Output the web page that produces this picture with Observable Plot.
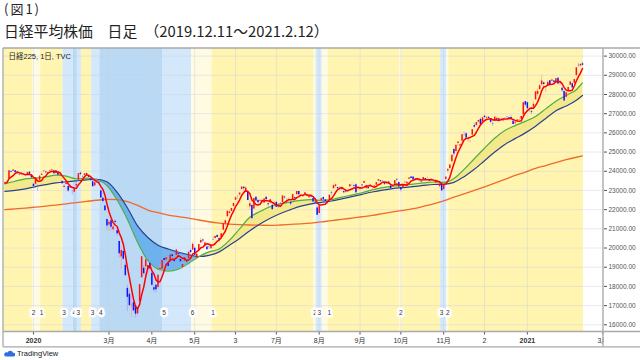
<!DOCTYPE html>
<html><head><meta charset="utf-8">
<script src="https://cdn.jsdelivr.net/npm/d3@7"></script>
<script src="https://cdn.jsdelivr.net/npm/@observablehq/plot@0.6"></script>
<style>
body{margin:0;background:#fff;width:640px;height:360px;overflow:hidden;position:relative;font-family:"Noto Sans CJK JP","Noto Sans",sans-serif;}
#chart{position:absolute;left:0;top:0;}
#t1{position:absolute;left:4px;top:2px;font-size:13px;line-height:13px;color:#222;letter-spacing:2px;}
#t2{position:absolute;left:4px;top:23px;font-size:14.8px;line-height:15px;color:#222;}
#tv{position:absolute;left:4px;top:349px;font-family:"Liberation Sans",Arial,sans-serif;font-size:7.5px;line-height:9px;color:#131722;display:flex;align-items:center;gap:2px;}
</style></head><body>
<div id="chart"></div>
<div id="t1">(図1)</div>
<div id="t2">日経平均株価　日足　（2019.12.11～2021.2.12）</div>
<div id="tv"><svg width="11" height="7" viewBox="0 0 11 7"><path d="M1.5 6.5h8a1.9 1.9 0 0 0 -0.4-3.8a3 3 0 0 0 -5.6-0.2a1.9 1.9 0 0 0 -2 4z" fill="#2e6fe0"/></svg>TradingView</div>
<script>
// ---- daily candles (trading-day index 0 = 2019-12-11 ... 283 = 2021-02-12) ----
const opens = [
 23350,23430,23620,23990,24000,24030,23900,23850,23830,23840,23800,23790,23950,23800,
 23320,23320,23220,23530,23790,24000,23960,23900,24010,24050,24020,23880,23940,23810,23470,23150,23310,23200,23130,
 22980,22910,23230,23540,23900,23700,23770,23880,23750,23600,23450,23240,23500,23430,22970,22600,22190,21480,
 21200,21420,20950,21400,20900,20340,19530,19820,19100,17900,17590,16990,17150,16990,16570,17200,18450,18950,19020,18880,19210,
 18690,17930,18060,17950,18880,18900,19450,19380,19200,19290,19650,19350,19620,19720,19400,18980,19320,19290,19450,19870,19890,
 19990,19470,19900,20260,20420,20100,20050,20050,19960,20450,20500,20650,20500,20550,20930,21250,21630,21800,
 21910,22160,22490,22700,22770,23050,23170,22990,22910,22150,22210,22030,22650,22480,22440,22470,22340,22640,22310,22340,22230,22250,
 22380,22230,22330,22370,22660,22470,22520,22380,22500,22630,22770,22940,22710,22690,22800,22790,22620,22740,22580,22380,22080,
 21800,22460,22630,22510,22360,22530,22870,23090,23210,23150,23100,23050,22940,23000,22960,23190,23280,23250,23300,23100,
 23070,23280,23370,23100,23160,23200,23020,23200,23280,23490,23510,23460,23370,23340,23440,23230,23190,23320,23580,23420,
 23160,23150,23400,23330,23590,23700,23700,23620,23560,23550,23440,23550,23620,23640,23520,23550,23520,23390,23460,23200,23330,
 23050,23580,24010,24140,24500,25130,25030,25450,25310,25560,26020,25960,25610,25520,25880,26380,26380,26560,26700,
 26550,26870,26770,26810,26740,26490,26610,26650,26730,26730,26620,26760,26820,26800,26800,26600,26470,26620,26650,26710,26940,27630,
 27570,27150,27100,27340,27720,28000,28260,28500,28600,28240,28420,28710,28690,28700,28610,28850,28640,28320,28160,
 27860,28180,28480,28560,28580,28980,29520,29480,29600
];
const highs = [
 23430,23460,24050,24050,24090,24050,23970,23890,23870,23860,23820,23940,23970,23810,
 23370,23580,23300,23770,23900,24030,24000,23950,24050,24110,24050,24040,23980,23880,23500,23320,23400,23220,23300,
 23000,23140,23400,23890,23940,23760,23870,23900,23780,23630,23500,23410,23580,23520,23000,22630,22200,21500,
 21400,21500,21200,21420,20990,20350,20080,19930,19250,18070,17780,17600,17430,17000,16890,18100,19560,19100,19390,19090,19340,
 18780,18040,18090,18600,19170,19410,19520,19550,19230,19650,19700,19450,19920,19780,19500,19140,19490,19400,19790,19950,20280,
 20000,19700,20180,20530,20470,20300,20120,20150,20200,20580,20620,20700,20540,20760,21290,21460,21920,21950,
 22070,22330,22680,22730,22880,23180,23190,23190,22970,22460,22280,22590,22680,22560,22540,22520,22580,22650,22330,22540,22240,22440,
 22440,22300,22360,22720,22700,22580,22600,22420,22800,22660,22950,22950,22800,22760,22890,22830,22760,22770,22600,22480,22150,
 22240,22600,22660,22520,22450,22770,22960,23300,23340,23170,23180,23140,22970,23040,23020,23310,23330,23300,23350,23190,
 23160,23300,23480,23230,23180,23300,23080,23270,23410,23580,23520,23520,23390,23390,23460,23230,23240,23520,23580,23440,
 23170,23330,23460,23440,23670,23720,23700,23640,23640,23560,23470,23690,23640,23700,23560,23590,23550,23490,23530,23360,23350,
 23300,23700,24110,24330,24840,25200,25350,25520,25410,25910,26060,26000,25700,25610,26180,26500,26540,26650,26760,
 26800,26890,26820,26840,26750,26540,26830,26780,26760,26760,26700,26810,26840,26810,26910,26620,26580,26690,26680,26860,27600,27640,
 27600,27280,27200,27620,28140,28290,28520,28980,28650,28350,28710,28720,28800,28720,28830,28880,28700,28380,28230,
 28130,28400,28690,28600,28800,29400,29620,29620,29690
];
const lows = [
 23330,23380,23600,23900,23970,23900,23830,23770,23790,23790,23760,23780,23800,23620,
 23150,23280,22950,23510,23780,23930,23870,23860,23970,24030,23840,23860,23750,23780,23320,23110,23280,22890,23100,
 22780,22890,23170,23530,23760,23640,23760,23750,23660,23480,23190,23200,23380,23330,22600,22360,21920,20920,
 20850,20900,20860,21150,20610,19480,18890,19360,18550,16690,16920,16380,16700,16360,16400,17130,18440,18570,18830,18580,18800,
 18000,17710,17650,17900,18760,18760,19250,19320,18990,19270,19450,19150,19600,19550,19230,18900,19320,19130,19440,19700,19880,
 19590,19450,19890,20240,20250,20050,19900,19930,19930,20390,20460,20520,20300,20520,20930,21120,21610,21780,
 21900,22150,22480,22530,22700,23000,22970,22950,22470,21980,21530,21990,22380,22290,22400,22290,22300,22450,22100,22300,21990,22200,
 22100,22060,22250,22360,22540,22400,22450,22210,22480,22400,22750,22680,22650,22620,22760,22680,22560,22600,22370,22250,21710,
 21790,22420,22450,22300,22260,22510,22730,23080,23130,23030,22990,23000,22820,22850,22900,23180,23200,23150,22790,23000,
 23020,23180,23350,23030,23040,23180,22980,23170,23250,23460,23400,23440,23260,23310,23320,23070,23150,23310,23440,23180,
 22920,23140,23380,23300,23570,23590,23550,23540,23520,23460,23360,23540,23530,23610,23440,23480,23440,23380,23400,23100,22950,
 22950,23510,23880,24090,24480,24760,24950,25300,25180,25550,25800,25700,25520,25470,25870,26230,26320,26500,26340,
 26520,26700,26690,26700,26510,26340,26600,26600,26620,26650,26570,26720,26750,26720,26690,26420,26400,26600,26620,26700,26940,27340,
 27060,27070,26960,27340,27720,27890,28220,28480,28390,28100,28400,28450,28650,28600,28580,28510,28450,28100,27630,
 27790,28170,28460,28300,28560,28970,29400,29440,29480
];
const closes = [
 23391,23424,24023,23952,24066,23934,23864,23816,23821,23830,23782,23924,23837,23656,
 23204,23575,23204,23740,23850,24025,23917,23933,24041,24083,23865,24031,23795,23827,23344,23216,23379,22977,23205,
 22972,23084,23320,23873,23828,23686,23861,23828,23687,23523,23194,23400,23479,23386,22605,22426,21948,21142,
 21344,21082,21100,21329,20749,19698,19867,19416,18559,17431,17002,17011,16726,16552,16887,18092,19546,18664,19389,19084,18917,
 18065,17819,17820,18576,18950,19353,19345,19498,19043,19638,19550,19290,19897,19669,19281,19138,19429,19262,19783,19771,20193,
 19619,19674,20179,20390,20366,20267,19914,20037,20133,20433,20595,20552,20388,20741,21271,21419,21916,21877,
 22062,22325,22613,22695,22863,23178,23091,23124,22472,22305,21530,22582,22455,22355,22478,22437,22549,22534,22260,22512,21995,22288,
 22122,22146,22306,22714,22614,22438,22529,22291,22784,22587,22945,22770,22696,22717,22884,22751,22715,22657,22397,22339,21710,
 22195,22573,22514,22418,22329,22750,22843,23249,23289,23096,23051,23110,22880,22920,22985,23296,23290,23208,22882,23139,
 23138,23247,23465,23205,23089,23274,23032,23235,23406,23559,23454,23475,23319,23360,23346,23087,23204,23511,23539,23185,
 23029,23312,23433,23422,23647,23619,23558,23601,23626,23507,23410,23671,23567,23639,23474,23516,23494,23485,23418,23331,22977,
 23295,23695,24105,24325,24839,24905,25349,25520,25385,25906,26014,25728,25634,25527,26165,26296,26537,26644,26433,
 26787,26800,26809,26751,26547,26467,26817,26756,26652,26732,26687,26757,26806,26763,26714,26436,26524,26668,26656,26854,27568,27444,
 27258,27158,27055,27490,28139,28164,28456,28698,28519,28242,28633,28523,28756,28631,28822,28546,28635,28197,27663,
 28091,28362,28646,28341,28779,29388,29505,29562,29520
];

const maIdx = [0,5,10,15,20,25,30,35,40,45,50,55,60,65,70,75,80,85,90,95,100,105,110,115,120,125,130,135,140,145,150,155,160,165,170,175,180,185,190,195,200,205,210,215,220,225,230,235,240,245,250,255,260,265,270,275,280,283];
const maMid = [23340,23480,23600,23640,23700,23800,23750,23600,23640,23560,23250,22500,21500,20300,19350,18900,18800,18900,19200,19550,19800,19950,20400,21000,21600,21900,22150,22300,22400,22480,22520,22480,22520,22650,22760,22880,23030,23150,23220,23270,23330,23390,23440,23420,23620,24100,24650,25200,25720,26120,26380,26600,26850,27250,27650,27950,28250,28600];
const maLong = [22950,23000,23080,23200,23300,23390,23450,23500,23550,23580,23450,22900,22100,21150,20550,20150,19950,19780,19650,19560,19620,19800,20150,20500,20900,21250,21550,21800,22000,22180,22300,22380,22450,22560,22680,22800,22920,23020,23100,23150,23200,23260,23310,23320,23420,23720,24100,24550,25000,25400,25700,26000,26350,26750,27150,27400,27700,27950];
const ma200 = [22000,22040,22080,22130,22180,22240,22300,22370,22430,22490,22530,22520,22420,22220,21980,21840,21720,21640,21560,21460,21370,21300,21250,21220,21200,21190,21180,21200,21230,21260,21300,21360,21430,21490,21560,21630,21700,21790,21880,21960,22050,22170,22300,22460,22650,22820,23000,23190,23380,23580,23780,23960,24150,24300,24450,24600,24730,24800];

// ---- stage bands (first / last trading-day index, stage number) ----
const stageStart = [0,14,18,29,34,36,38,43,47,78,92,102,152,153,156,159,194,195,214,217,218];
const stageEnd   = [13,17,28,33,35,37,42,46,77,91,101,151,152,155,158,193,194,213,216,217,283];
const stageNum   = [1,2,1,3,4,3,1,3,4,5,6,1,2,3,2,1,2,1,3,2,1];
const stageLabelIdx  = [14,18,29,34,36,43,47,78,92,102,152,154,159,194,214,217];
const stageLabelText = ["2","1","3","4","3","3","4","5","6","1","2","3","1","2","3","2"];

// ---- axis ticks ----
const xTickIdx  = [14,51,72,93,113,133,154,174,194,215,235,256,293];
const xTickText = ["2020","3月","4月","5月","3","7月","8月","9月","10月","11月","2","2021","3月"];
const yTicks = [16000,17000,18000,19000,20000,21000,22000,23000,24000,25000,26000,27000,28000,29000,30000];

const N = closes.length;
if (opens.length !== N || highs.length !== N || lows.length !== N) throw new Error("length mismatch " + [opens.length, highs.length, lows.length, N]);
if (maMid.length !== maIdx.length || maLong.length !== maIdx.length || ma200.length !== maIdx.length) throw new Error("ma mismatch");

const days = closes.map((c, i) => ({i, o: opens[i], h: highs[i], l: lows[i], c}));
const ma = maIdx.map((i, k) => ({i, g: maMid[k], n: maLong[k], r: ma200[k]}));
const stageColor = {1: "#fff5b1", 2: "#fffbe2", 3: "#d4e8fb", 4: "#bad9f5", 5: "#d4e8fb", 6: "#fffbe2"};
const stages = stageStart.map((s, k) => ({s, e: stageEnd[k], n: stageNum[k]}));
const stageLabels = stageLabelIdx.map((i, k) => ({i, t: stageLabelText[k]}));

const yDomain = [15625, 30396];
const xDomain = [-0.69, 293.3];
const up = days.filter(d => d.c >= d.o), down = days.filter(d => d.c < d.o);

const svg = Plot.plot({
  width: 640, height: 360,
  marginTop: 48, marginBottom: 28.5, marginLeft: 3, marginRight: 37,
  style: {fontFamily: "'Liberation Sans', Arial, 'Noto Sans CJK JP', sans-serif", fontSize: "6.5px", color: "#555", background: "transparent", overflow: "visible"},
  color: {type: "identity"},
  x: {domain: xDomain, nice: false, ticks: xTickIdx, tickFormat: d => xTickText[xTickIdx.indexOf(d)], tickSize: 3, tickPadding: 3, label: null},
  y: {domain: yDomain, nice: false, axis: "right", ticks: yTicks, tickFormat: d3.format(".2f"), tickSize: 3, tickPadding: 2, label: null},
  marks: [
    Plot.rect(stages, {x1: d => d.s - 0.5, x2: d => d.e + 0.5, y1: yDomain[0], y2: yDomain[1], fill: d => stageColor[d.n]}),
    Plot.ruleY(yTicks, {stroke: "#c9d2dc", strokeOpacity: 0.45}),
    Plot.ruleX(xTickIdx, {stroke: "#c9d2dc", strokeOpacity: 0.45}),
    Plot.areaY(ma, {x: "i", y1: "n", y2: d => Math.max(d.g, d.n), fill: "#f3e98a", curve: "monotone-x"}),
    Plot.areaY(ma, {x: "i", y1: "g", y2: d => Math.max(d.g, d.n), fill: "#5aa8ea", fillOpacity: 0.8, curve: "monotone-x"}),
    Plot.line(ma, {x: "i", y: "r", stroke: "#f06a2c", strokeWidth: 1.3, curve: "monotone-x"}),
    Plot.line(ma, {x: "i", y: "n", stroke: "#2b3f8e", strokeWidth: 1.2, curve: "monotone-x"}),
    Plot.line(ma, {x: "i", y: "g", stroke: "#4fae4a", strokeWidth: 1.2, curve: "monotone-x"}),
    Plot.ruleX(up, {x: "i", y1: "l", y2: "h", stroke: "#f3a0a0", strokeWidth: 0.7}),
    Plot.ruleX(down, {x: "i", y1: "l", y2: "h", stroke: "#a0a0f3", strokeWidth: 0.7}),
    Plot.ruleX(up, {x: "i", y1: "o", y2: "c", stroke: "#ff1010", strokeWidth: 1.5}),
    Plot.ruleX(down, {x: "i", y1: "o", y2: "c", stroke: "#1010ff", strokeWidth: 1.5}),
    Plot.lineY(days, Plot.windowY({k: 5, anchor: "end"}, {x: "i", y: "c", stroke: "#ff0000", strokeWidth: 1.5})),
    Plot.text(stageLabels, {x: "i", text: "t", frameAnchor: "bottom", dy: -19, lineAnchor: "middle", fill: "#333", stroke: "white", strokeWidth: 5, strokeLinejoin: "round", fontSize: 6.5}),
    Plot.text(["日経225, 1日, TVC"], {frameAnchor: "top-left", dx: 5, dy: 8, lineAnchor: "middle", textAnchor: "start", fill: "#222", fontSize: 7.5})
  ]
});
document.getElementById("chart").appendChild(svg);

const s = d3.select(svg);
s.selectAll('[aria-label^="x-axis"] text').attr("font-size", 7).attr("fill", "#333");
s.selectAll("text").filter(function () { return this.textContent === "2020" || this.textContent === "2021"; }).attr("font-weight", "bold");
s.append("rect").attr("x", 603.6).attr("y", 332.3).attr("width", 37).attr("height", 14.2).attr("fill", "#fff");
const g = s.append("g").attr("stroke", "#a9a9a9").attr("stroke-width", 1.3).attr("fill", "none");
g.append("line").attr("x1", 3).attr("x2", 640).attr("y1", 48).attr("y2", 48);
g.append("line").attr("x1", 3).attr("x2", 640).attr("y1", 331.5).attr("y2", 331.5);
g.append("line").attr("x1", 3).attr("x2", 640).attr("y1", 346.8).attr("y2", 346.8);
g.append("line").attr("x1", 3).attr("x2", 3).attr("y1", 48).attr("y2", 346.8);
g.append("line").attr("x1", 603).attr("x2", 603).attr("y1", 48).attr("y2", 346.8);
</script>
</body></html>
